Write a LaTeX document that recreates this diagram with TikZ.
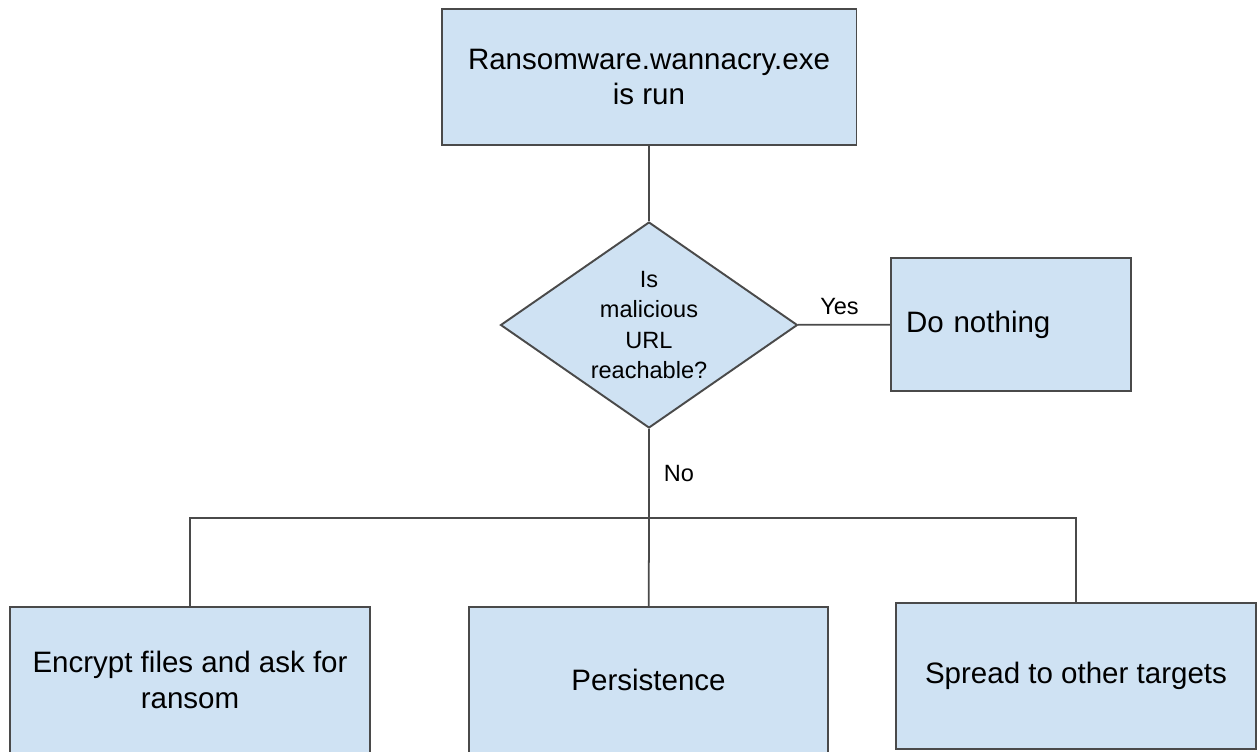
\documentclass[tikz,border=0pt]{standalone}
\usepackage{fontspec}
\setmainfont{Liberation Sans}
\usetikzlibrary{shapes.geometric,positioning}
\definecolor{boxfill}{HTML}{CFE2F3}
\definecolor{edge}{HTML}{4A4A4A}

\begin{document}
\begin{tikzpicture}[x=0.02cm,y=-0.02cm,every node/.style={font=\fontsize{16.8}{20}\selectfont},
    box/.style={draw=edge,line width=1.1pt,fill=boxfill,align=center,inner sep=0pt,minimum width=7.2cm,minimum height=2.92cm},
    dec/.style={diamond,draw=edge,line width=1.1pt,fill=boxfill,align=center,inner sep=0pt,aspect=1.44,
        minimum width=5.94cm,minimum height=4.12cm,font=\fontsize{13.4}{17.4}\selectfont},
    lbl/.style={font=\fontsize{13.4}{16}\selectfont,inner sep=2pt},
    link/.style={draw=edge,line width=1pt}]
  \useasboundingbox (0,0) rectangle (1257,751);
  % ---- start ----
  \node[box,minimum width=8.3cm,minimum height=2.72cm] (run) at (649,77) {Ransomware.wannacry.exe\\is run};
  % ---- check ----
  \node[dec] (url) at (649,325) {Is\\malicious\\URL\\reachable?};
  \node[box,minimum width=4.8cm,minimum height=2.66cm,text width=4.2cm,align=left] (idle) at (1011,324.5) {Do nothing};
  % ---- actions ----
  \node[box] (enc) at (190,680) {Encrypt files and ask for\\ransom};
  \node[box,minimum width=7.18cm] (per) at (648.5,680) {Persistence};
  \node[box] (spr) at (1076,676) {Spread to other targets};
  \coordinate (fork) at (649,518);
  % ---- connectors ----
  \draw[link] (run) -- (url);
  \draw[link] (url) -- (idle) node[lbl,pos=0.45,above=3pt] {Yes};
  \draw[link] (url) -- (fork) node[lbl,midway,right=6pt] {No};
  \draw[link] (enc) |- (fork) -| (spr);
  \draw[link] (fork) -- (per);
\end{tikzpicture}
\end{document}
